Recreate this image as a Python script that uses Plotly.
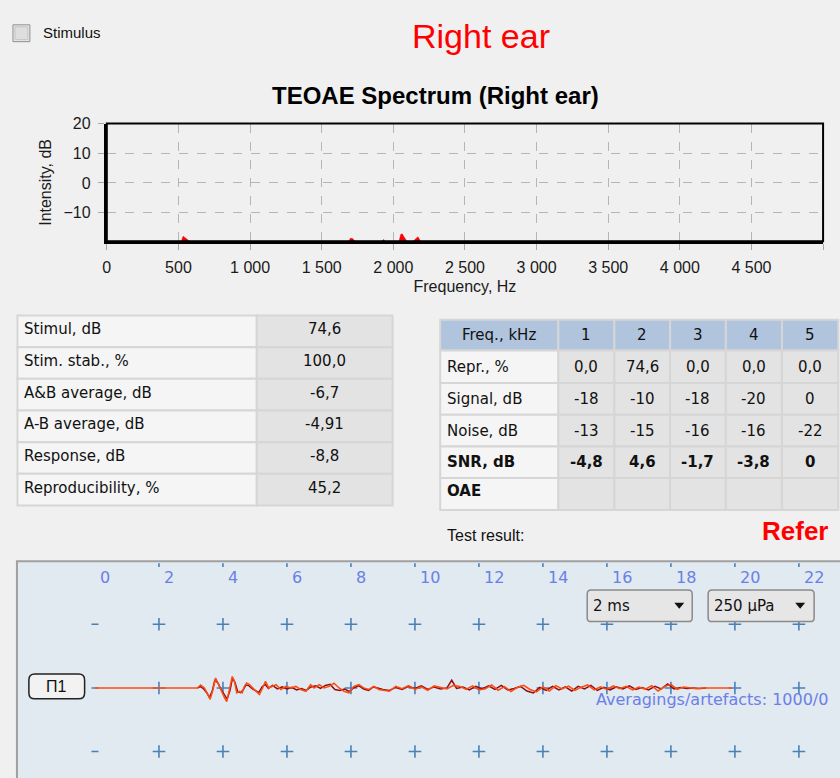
import plotly.graph_objects as go

W, H = 840, 778


def px(x):
    return x / W


def py(y):
    return 1 - y / H


# ---------------- data ----------------
# TEOAE spectrum (Hz, dB)
spec_freq = [0, 520, 533, 560, 578, 1690, 1700, 1715, 1735, 1920, 1932, 1945,
             2040, 2052, 2062, 2075, 2095, 2138, 2160, 2172, 2190, 5000]
spec_db = [-19.6, -19.6, -17.9, -19.0, -19.6, -19.6, -18.6, -18.7, -19.6, -19.6, -19.0, -19.6,
           -19.6, -17.3, -17.1, -18.2, -19.6, -19.6, -18.6, -18.1, -19.6, -19.6]
freq_ticks = [0, 500, 1000, 1500, 2000, 2500, 3000, 3500, 4000, 4500, 5000]
freq_ticklabels = ["0", "500", "1 000", "1 500", "2 000", "2 500", "3 000",
                   "3 500", "4 000", "4 500", "5 000"]
db_ticks = [-10, 0, 10, 20]

# left summary table
left_labels = ["Stimul, dB", "Stim. stab., %", "A&B average, dB",
               "A-B average, dB", "Response, dB", "Reproducibility, %"]
left_values = ["74,6", "100,0", "-6,7", "-4,91", "-8,8", "45,2"]

# right frequency table
freq_header = ["Freq., kHz", "1", "2", "3", "4", "5"]
row_labels = ["Repr., %", "Signal, dB", "Noise, dB", "SNR, dB", "OAE"]
repr_pct = ["0,0", "74,6", "0,0", "0,0", "0,0"]
signal_db = ["-18", "-10", "-18", "-20", "0"]
noise_db = ["-13", "-15", "-16", "-16", "-22"]
snr_db = ["-4,8", "4,6", "-1,7", "-3,8", "0"]
oae_row = ["", "", "", "", ""]
test_result = "Refer"

# waveform panel
time_ticks = [0, 2, 4, 6, 8, 10, 12, 14, 16, 18, 20, 22]
grid_levels = [500, 250, 0, -250]   # µPa

orange_t = [0, 3.2, 3.3, 3.42, 3.53, 3.6, 3.69, 3.77, 3.87, 3.95,
            4.05, 4.12, 4.21, 4.29, 4.36, 4.43, 4.52, 4.6, 4.67, 4.74,
            4.83, 4.93, 5.03, 5.14, 5.24, 5.33, 5.43, 5.55, 5.66, 5.81,
            5.97, 6.12, 6.28, 6.43, 6.59, 6.74, 6.85, 7.01, 7.16, 7.32,
            7.47, 7.63, 7.78, 7.94, 8.09, 8.25, 8.4, 8.56, 8.72, 8.87,
            9.0, 9.2, 9.4, 9.6, 9.8, 10.0, 10.2, 10.4, 10.6, 10.8,
            11.0, 11.2, 11.4, 11.6, 11.8, 12.0, 12.2, 12.4, 12.6, 12.8,
            13.0, 13.2, 13.4, 13.6, 13.8, 14.0, 14.2, 14.4, 14.6, 14.8,
            15.0, 15.2, 15.4, 15.6, 15.8, 16.0, 16.2, 16.4, 16.6, 16.8,
            17.0, 17.2, 17.4, 17.6, 17.8, 18.0, 18.2, 18.4, 18.6, 18.8,
            19.0, 19.2, 19.5, 19.9]
orange_amp = [0, 0, 12, 0, -26, -45, -6, 39, 12, -13,
              -39, -54, -6, 45, 26, -19, -13, -19, 6, 19,
              13, 0, -13, -26, 0, 26, 0, 6, 13, -6,
              6, 0, 6, -6, -13, 13, 0, 13, 0, 6,
              19, 0, -13, -19, 6, 13, 0, -6, 6, -6,
              -9, -13, 6, -3, 9, -6, 4, -10, 8, 2,
              -4, 10, 6, -6, 8, -8, -3, 12, -9, 5,
              -14, 2, 10, -6, -16, 4, -12, 9, -4, 7,
              -10, 3, 12, -8, 4, -6, 8, -3, 6, -8,
              3, -5, 9, -12, 5, 14, -6, 4, 0, -3,
              0, 0, 0, 0]

dark_t = [3.2, 3.3, 3.4, 3.5, 3.58, 3.67, 3.75, 3.85, 3.95, 4.05,
          4.13, 4.22, 4.3, 4.38, 4.46, 4.55, 4.63, 4.72, 4.82, 4.92,
          5.02, 5.12, 5.22, 5.32, 5.42, 5.55, 5.7, 5.85, 6.0, 6.15,
          6.3, 6.45, 6.6, 6.75, 6.9, 7.05, 7.2, 7.35, 7.5, 7.65,
          7.8, 7.95, 8.1, 8.25, 8.4, 8.55, 8.7, 8.85, 9.0, 9.2,
          9.4, 9.6, 9.8, 10.0, 10.2, 10.4, 10.6, 10.8, 11.0, 11.15,
          11.3, 11.5, 11.7, 11.9, 12.1, 12.3, 12.5, 12.7, 12.9, 13.1,
          13.3, 13.5, 13.7, 13.9, 14.1, 14.3, 14.5, 14.7, 14.9, 15.1,
          15.3, 15.5, 15.7, 15.9, 16.1, 16.3, 16.5, 16.7, 16.9, 17.1,
          17.3, 17.5, 17.7, 17.9, 18.1, 18.3, 18.5, 18.7, 18.9, 19.1]
dark_amp = [0, 5, -4, -20, -38, -10, 32, 18, -8, -30,
            -44, -10, 40, 20, -14, -18, -8, 12, 8, -4,
            -10, -18, 4, 14, -2, 10, -4, 4, -4, 2,
            -8, -2, -10, 4, 8, -2, 10, 14, -6, -10,
            -4, -14, 2, 8, -4, -10, 4, -2, -6, -10,
            2, -6, 6, -2, 8, -6, 4, -4, 0, 30,
            -2, 4, -8, 6, -4, 8, -6, 10, -8, -2,
            6, -12, -20, 2, -10, 6, -8, 4, -12, 6,
            -4, 10, -10, 2, -8, 4, -4, 8, -6, 2,
            -8, 6, -4, 16, -4, 2, -2, 0, -2, 0]

# ---------------- layout helpers ----------------
shapes = []
annotations = []
SANS = "Liberation Sans"
UI = "DejaVu Sans"


def rect(x0, y0, x1, y1, fill, line, lw=1, layer="below"):
    shapes.append(dict(type="rect", xref="paper", yref="paper",
                       x0=px(x0), x1=px(x1), y0=py(y1), y1=py(y0),
                       fillcolor=fill, line=dict(color=line, width=lw), layer=layer))


def rrect(x0, y0, x1, y1, r, fill, line, lw=1):
    p = (f"M {px(x0 + r)},{py(y0)} L {px(x1 - r)},{py(y0)} Q {px(x1)},{py(y0)} {px(x1)},{py(y0 + r)} "
         f"L {px(x1)},{py(y1 - r)} Q {px(x1)},{py(y1)} {px(x1 - r)},{py(y1)} "
         f"L {px(x0 + r)},{py(y1)} Q {px(x0)},{py(y1)} {px(x0)},{py(y1 - r)} "
         f"L {px(x0)},{py(y0 + r)} Q {px(x0)},{py(y0)} {px(x0 + r)},{py(y0)} Z")
    shapes.append(dict(type="path", xref="paper", yref="paper", path=p,
                       fillcolor=fill, line=dict(color=line, width=lw), layer="above"))


def tri(xc, yc, w, h, color):
    p = (f"M {px(xc - w / 2)},{py(yc - h / 2)} L {px(xc + w / 2)},{py(yc - h / 2)} "
         f"L {px(xc)},{py(yc + h / 2)} Z")
    shapes.append(dict(type="path", xref="paper", yref="paper", path=p,
                       fillcolor=color, line=dict(color=color, width=0), layer="above"))


def text(x, y, s, size=15, color="#111111", family=UI, anchor="left", bold=False):
    if bold and s:
        s = f"<b>{s}</b>"
    annotations.append(dict(xref="paper", yref="paper", x=px(x), y=py(y), text=s,
                            showarrow=False, xanchor=anchor, yanchor="middle",
                            font=dict(size=size, color=color, family=family)))


# ---------------- header ----------------
rect(9, 17, 26, 34, "#e9e9e9", "#8e8f8f", 1)
rect(11, 19, 24, 32, "#dedede", "#c4c4c4", 1)
text(37, 25, "Stimulus", 15, "#111111", SANS)
text(479, 28, "Right ear", 34, "#ff0000", SANS, "center")
text(434, 88, "TEOAE Spectrum (Right ear)", 24, "#000000", SANS, "center", bold=True)

# ---------------- left table ----------------
LT_X = [13.5, 254, 390.5]
LT_Y0, LT_H = 310.7, 32
for i, (lab, val) in enumerate(zip(left_labels, left_values)):
    y0 = LT_Y0 + i * LT_H
    rect(LT_X[0], y0, LT_X[1], y0 + LT_H, "#f5f5f5", "#d6d6d6", 2)
    rect(LT_X[1], y0, LT_X[2], y0 + LT_H, "#e3e3e3", "#d6d6d6", 2)
    text(LT_X[0] + 5, y0 + LT_H / 2 - 2, lab, 15)
    text((LT_X[1] + LT_X[2]) / 2, y0 + LT_H / 2 - 2, val, 15, anchor="center")

# ---------------- right table ----------------
RT_X = [438.3, 557, 613.3, 669.3, 725.3, 781.7, 838.3]
RT_Y = [315, 346, 379, 411, 443, 475, 507.3]
for j in range(6):
    rect(RT_X[j], RT_Y[0], RT_X[j + 1], RT_Y[1], "#b0c4de", "#d6d6d6", 2)
    text((RT_X[j] + RT_X[j + 1]) / 2, (RT_Y[0] + RT_Y[1]) / 2, freq_header[j], 15, anchor="center")

table_rows = [repr_pct, signal_db, noise_db, snr_db, oae_row]
bold_rows = {3, 4}
for i, (lab, vals) in enumerate(zip(row_labels, table_rows)):
    y0, y1 = RT_Y[i + 1], RT_Y[i + 2]
    yc = (y0 + y1) / 2 - (3 if i == 4 else 0)
    rect(RT_X[0], y0, RT_X[1], y1, "#f5f5f5", "#d6d6d6", 2)
    text(RT_X[0] + 5, yc, lab, 15, bold=i in bold_rows)
    for j, v in enumerate(vals):
        rect(RT_X[j + 1], y0, RT_X[j + 2], y1, "#e3e3e3", "#d6d6d6", 2)
        text((RT_X[j + 1] + RT_X[j + 2]) / 2, yc, v, 15, anchor="center", bold=i in bold_rows)

text(443, 533, "Test result:", 16, "#111111", SANS)
text(830, 528, test_result, 26, "#ff0000", SANS, "right", bold=True)

# ---------------- waveform panel ----------------
rect(13, 559, 845, 785, "#e1e9f1", "#a0a0a0", 2)

# panel axes geometry (pixels)
T0_PX, PX_PER_MS = 91.4, 32.15
A0_PX, PX_PER_UPA = 687.0, 64.3 / 250
P_LEFT, P_TOP = 15, 561
x2_range = [(P_LEFT - T0_PX) / PX_PER_MS, (W - T0_PX) / PX_PER_MS]
y2_range = [-(H - A0_PX) / PX_PER_UPA, (A0_PX - P_TOP) / PX_PER_UPA]

for t in time_ticks:
    annotations.append(dict(xref="x2", yref="paper", x=t, y=py(575), text=str(t),
                            showarrow=False, xanchor="left", yanchor="middle", xshift=3,
                            font=dict(size=16, color="#6a80e6", family=UI)))

plus_x, plus_y, dash_x, dash_y = [], [], [], []
for lv in grid_levels:
    for t in time_ticks:
        if t == 0:
            dash_x.append(t)
            dash_y.append(lv)
        else:
            plus_x.append(t)
            plus_y.append(lv)

# П1 label box
rrect(25, 673, 81, 698, 6, "#f2f2f2", "#222222", 1.5)
text(53, 686, "П1", 16, "#111111", SANS, "center")

# dropdowns
rrect(586, 588, 691.5, 620, 4, "#e6e6e6", "#8a8a8a", 1.5)
text(590, 604, "2 ms", 15, "#111111", UI)
tri(678.5, 604, 10, 6, "#111111")
rrect(707.5, 588, 814, 620, 4, "#e6e6e6", "#8a8a8a", 1.5)
text(711, 604, "250 µPa", 15, "#111111", UI)
tri(800, 604, 10, 6, "#111111")

text(830, 699, "Averagings/artefacts: 1000/0", 16, "#6b7fe6", UI, "right")

# ---------------- figure ----------------
fig = go.Figure()

fig.add_trace(go.Scatter(x=spec_freq, y=spec_db, mode="lines", fill="toself",
                         fillcolor="#ff0000", line=dict(color="#e00000", width=0.5),
                         xaxis="x", yaxis="y", hoverinfo="skip", showlegend=False))

fig.add_trace(go.Scatter(x=plus_x, y=plus_y, mode="markers", xaxis="x2", yaxis="y2",
                         marker=dict(symbol="cross-thin", size=9,
                                     line=dict(color="#4a80b8", width=1.6)),
                         hoverinfo="skip", showlegend=False))
fig.add_trace(go.Scatter(x=dash_x, y=dash_y, mode="markers", xaxis="x2", yaxis="y2",
                         marker=dict(symbol="line-ew", size=5,
                                     line=dict(color="#4a80b8", width=1.6)),
                         hoverinfo="skip", showlegend=False))
fig.add_trace(go.Scatter(x=dark_t, y=dark_amp, mode="lines", xaxis="x2", yaxis="y2",
                         line=dict(color="#8b0f0f", width=1.5),
                         hoverinfo="skip", showlegend=False))
fig.add_trace(go.Scatter(x=orange_t, y=orange_amp, mode="lines", xaxis="x2", yaxis="y2",
                         line=dict(color="#ff4a12", width=1.5),
                         hoverinfo="skip", showlegend=False))

# border of spectrum plot (thin top/right)
shapes.append(dict(type="rect", xref="x domain", yref="y domain", x0=0, x1=1, y0=0, y1=1,
                   line=dict(color="#000000", width=2), layer="above"))

axis_font = dict(size=16, color="#1a1a1a", family=SANS)
fig.update_layout(
    width=W, height=H,
    margin=dict(l=0, r=0, t=0, b=0),
    paper_bgcolor="#f0f0f0",
    plot_bgcolor="rgba(0,0,0,0)",
    font=dict(family=SANS, color="#111111"),
    showlegend=False,
    xaxis=dict(domain=[px(103.3), px(823)], range=[0, 5000],
               tickvals=freq_ticks, ticktext=freq_ticklabels,
               showgrid=True, gridcolor="#b5b5b5", griddash="dash", gridwidth=1,
               ticks="outside", ticklen=6, tickcolor="#a8a8a8", tickwidth=1,
               showline=True, linecolor="#000000", linewidth=3, zeroline=False,
               tickfont=axis_font, ticklabelstandoff=4,
               title=dict(text="Frequency, Hz", font=dict(size=16, color="#1a1a1a", family=SANS),
                          standoff=6),
               fixedrange=True),
    yaxis=dict(domain=[py(235.7), py(116.7)], range=[-19.6, 20],
               tickvals=db_ticks,
               showgrid=True, gridcolor="#b5b5b5", griddash="dash", gridwidth=1,
               ticks="outside", ticklen=6, tickcolor="#a8a8a8", tickwidth=1,
               showline=True, linecolor="#000000", linewidth=3, zeroline=False,
               tickfont=axis_font, ticklabelstandoff=4,
               title=dict(text="Intensity, dB", font=dict(size=16, color="#1a1a1a", family=SANS),
                          standoff=8),
               fixedrange=True),
    xaxis2=dict(domain=[px(P_LEFT), 1], range=x2_range, visible=False, anchor="y2",
                fixedrange=True),
    yaxis2=dict(domain=[0, py(P_TOP)], range=y2_range, visible=False, anchor="x2",
                fixedrange=True),
    shapes=shapes,
    annotations=annotations,
)

fig.write_html(
    "out.html",
    config={"displayModeBar": False},
    post_script="document.body.style.margin='0';document.body.style.padding='0';"
                "document.body.style.overflow='hidden';",
)
